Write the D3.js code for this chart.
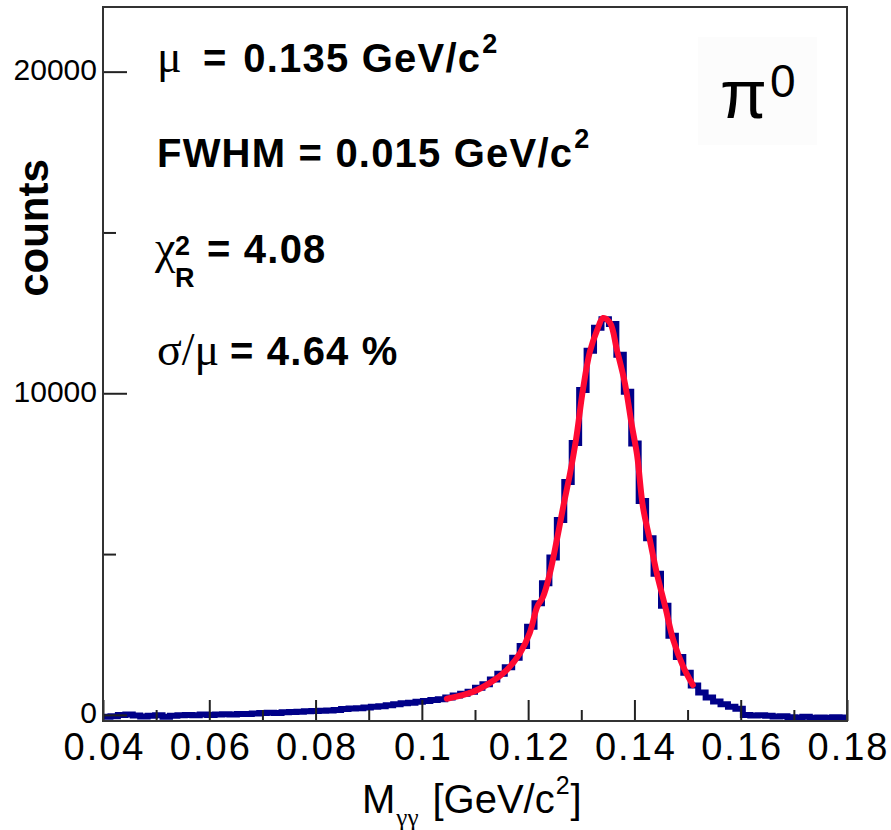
<!DOCTYPE html>
<html>
<head>
<meta charset="utf-8">
<script src="https://cdn.jsdelivr.net/npm/d3@7"></script>
<style>
    body { margin: 0; background: #ffffff; }
    #chart svg { display: block; font-family: "Liberation Sans", Arial, Helvetica, sans-serif; }
</style>
</head>
<body>
<div id="chart"></div>
<script>
// Histogram: 100 bins of width 0.0014 GeV/c^2 from 0.04 to 0.18
const binLow = 0.04;
const binWidth = 0.0014;
const counts = [
    -60, -40, 0, 10, -20, -50, -30, -10, -60, -30,
    -10, 0, -10, 10, 0, 10, 20, 10, 30, 30,
    40, 60, 70, 60, 80, 90, 100, 110, 120, 130,
    140, 150, 180, 200, 210, 230, 250, 270, 300, 330,
    360, 380, 410, 430, 460, 490, 540, 600, 660, 720,
    840, 950, 1100, 1280, 1480, 1780, 2140, 2740, 3470, 4090,
    4890, 6060, 7240, 8450, 10100, 11320, 12040, 12300, 12150, 11200,
    10050, 8440, 6650, 5490, 4390, 3390, 2460, 1800, 1310, 910,
    700, 540, 420, 330, 250, 190, 0, -20, -10, -30,
    -50, -40, -70, -80, -60, -90, -80, -90, -70, -80
];

// Fit curve
const fitX = [0.1047, 0.1096, 0.1128, 0.1160, 0.1185, 0.1203, 0.1217, 0.1228, 0.1241, 0.1254,
              0.1266, 0.1279, 0.1290, 0.1303, 0.1316, 0.1330, 0.1341, 0.1354, 0.1367, 0.1382,
              0.1395, 0.1405, 0.1416, 0.1429, 0.1442, 0.1458, 0.1473, 0.1492, 0.1510];
const fitY = [500, 715, 995, 1400, 1930, 2550, 3360, 3670, 4410, 5440,
              6470, 7520, 8550, 10100, 11280, 11970, 12340, 12190, 11350, 10320,
              9010, 8080, 6470, 5440, 4410, 3360, 2330, 1490, 930];

// Axis ticks
const xTicks = [0.04, 0.06, 0.08, 0.1, 0.12, 0.14, 0.16, 0.18];
const xTickLabels = ['0.04', '0.06', '0.08', '0.1', '0.12', '0.14', '0.16', '0.18'];
const xMinorTicks = [0.05, 0.07, 0.09, 0.11, 0.13, 0.15, 0.17];
const yTicks = [0, 10000, 20000];
const yTickLabels = ['0', '10000', '20000'];
const yMinorTicks = [5000, 15000];

const width = 891, height = 830;
const margin = { top: 7, right: 44, bottom: 109, left: 103 };
const plotW = width - margin.left - margin.right;
const plotH = height - margin.top - margin.bottom;

const svg = d3.select('#chart')
    .append('svg')
    .attr('width', width)
    .attr('height', height);

const xScale = d3.scaleLinear().domain([0.04, 0.18]).range([margin.left, margin.left + plotW]);
const yScale = d3.scaleLinear().domain([-190, 22010]).range([margin.top + plotH, margin.top]);

const serif = '"Liberation Serif", "DejaVu Serif", serif';

// write a sequence of text pieces, each placed right after the previous one
function richText(parent, x, y, parts) {
    let cx = x;
    parts.forEach(p => {
        const t = parent.append('text')
            .attr('x', cx + (p.dx || 0))
            .attr('y', y + (p.dy || 0))
            .style('font-size', p.size + 'px')
            .style('font-weight', p.weight || 'normal')
            .style('font-family', p.family || null)
            .style('letter-spacing', p.ls ? p.ls + 'px' : null)
            .attr('fill', '#000')
            .text(p.t);
        cx = cx + (p.dx || 0) + t.node().getComputedTextLength();
    });
    return cx;
}

// faint box behind the particle label
svg.append('rect')
    .attr('x', 698).attr('y', 37)
    .attr('width', 119).attr('height', 108)
    .attr('fill', '#fcfcfc');

// Histogram outline
const histPts = counts.map((c, i) => [binLow + i * binWidth, c]);
histPts.push([binLow + counts.length * binWidth, counts[counts.length - 1]]);

const histLine = d3.line()
    .x(d => xScale(d[0]))
    .y(d => yScale(d[1]))
    .curve(d3.curveStepAfter);

svg.append('path')
    .datum(histPts)
    .attr('fill', 'none')
    .attr('stroke', '#000088')
    .attr('stroke-width', 6)
    .attr('d', histLine);

// Fit
const fitLine = d3.line()
    .x(d => xScale(d[0]))
    .y(d => yScale(d[1]))
    .curve(d3.curveCatmullRom);

svg.append('path')
    .datum(fitX.map((v, i) => [v, fitY[i]]))
    .attr('fill', 'none')
    .attr('stroke', '#ff0a32')
    .attr('stroke-width', 6)
    .attr('stroke-linecap', 'round')
    .attr('d', fitLine);

// X axis (ticks point into the frame)
const xAxisG = svg.append('g')
    .attr('transform', `translate(0,${margin.top + plotH})`)
    .call(d3.axisBottom(xScale)
        .tickValues(xTicks)
        .tickSize(-21)
        .tickPadding(12)
        .tickFormat((d, i) => xTickLabels[i]));

svg.append('g')
    .attr('transform', `translate(0,${margin.top + plotH})`)
    .call(d3.axisBottom(xScale)
        .tickValues(xMinorTicks)
        .tickSize(-11)
        .tickFormat(''));

// Y axis
const yAxisG = svg.append('g')
    .attr('transform', `translate(${margin.left},0)`)
    .call(d3.axisLeft(yScale)
        .tickValues(yTicks)
        .tickSize(-24)
        .tickPadding(6)
        .tickFormat((d, i) => yTickLabels[i]));

svg.append('g')
    .attr('transform', `translate(${margin.left},0)`)
    .call(d3.axisLeft(yScale)
        .tickValues(yMinorTicks)
        .tickSize(-13)
        .tickFormat(''));

svg.selectAll('.domain').remove();
svg.selectAll('.tick line').attr('stroke', '#222').attr('stroke-width', 2);
svg.selectAll('.tick text').attr('fill', '#000').attr('font-family', null);
xAxisG.selectAll('.tick text')
    .style('font-size', '38px')
    .style('letter-spacing', '2px')
    .attr('dx', 1);
yAxisG.selectAll('.tick text')
    .style('font-size', '30px')
    .attr('dy', '0.26em');

// Frame
svg.append('rect')
    .attr('x', margin.left).attr('y', margin.top)
    .attr('width', plotW).attr('height', plotH)
    .attr('fill', 'none')
    .attr('stroke', '#333')
    .attr('stroke-width', 2);

// Axis titles
svg.append('text')
    .attr('transform', 'translate(48,228) rotate(-90)')
    .attr('text-anchor', 'middle')
    .style('font-size', '42px')
    .style('font-weight', 'bold')
    .text('counts');

const xt = svg.append('g');
let cx = richText(xt, 362, 813, [{ t: 'M', size: 40 }]);
cx = richText(xt, cx + 1, 826, [{ t: 'γγ', size: 25, family: serif }]);
cx = richText(xt, cx + 14, 813, [{ t: '[GeV/c', size: 40 }]);
cx = richText(xt, cx + 1, 794, [{ t: '2', size: 25 }]);
richText(xt, cx + 1, 813, [{ t: ']', size: 40 }]);

// Fit results
const ann = svg.append('g');
richText(ann, 157, 72, [{ t: 'μ', size: 46, family: serif }]);
cx = richText(ann, 203, 72, [
    { t: '=', size: 40, weight: 'bold' },
    { t: '0.135 GeV/c', size: 40, weight: 'bold', dx: 17, ls: 1.2 }
]);
richText(ann, cx + 1, 53, [{ t: '2', size: 27, weight: 'bold' }]);

cx = richText(ann, 157, 167, [{ t: 'FWHM = 0.015 GeV/c', size: 40, weight: 'bold', ls: 1.2 }]);
richText(ann, cx + 1, 148, [{ t: '2', size: 27, weight: 'bold' }]);

richText(ann, 155, 263, [{ t: 'χ', size: 46, family: serif }]);
richText(ann, 175, 255, [{ t: '2', size: 27, weight: 'bold' }]);
richText(ann, 175, 287, [{ t: 'R', size: 27, weight: 'bold' }]);
richText(ann, 207, 263, [{ t: '= 4.08', size: 40, weight: 'bold', ls: 1.2 }]);

richText(ann, 157, 365, [{ t: 'σ/μ', size: 46, family: serif }]);
richText(ann, 230, 365, [{ t: '= 4.64 %', size: 40, weight: 'bold', ls: 1.2 }]);

// Particle label
richText(svg, 720, 118, [{ t: 'π', size: 68 }]);
richText(svg, 770, 97, [{ t: '0', size: 46 }]);
</script>
</body>
</html>
